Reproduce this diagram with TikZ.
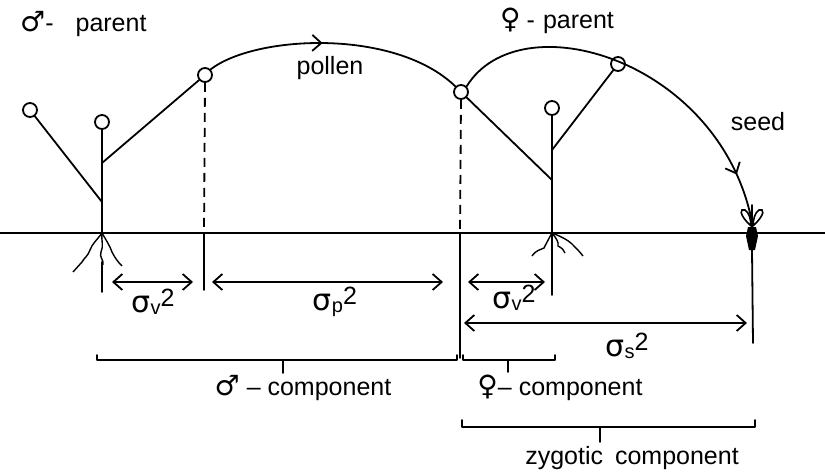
\documentclass[tikz,border=0pt]{standalone}
\usepackage{fontspec}
\setmainfont{Liberation Sans}
\newfontfamily\symf{DejaVu Sans}
\usetikzlibrary{arrows.meta,decorations.markings}
\newcommand\sgm[1]{{\symf\fontsize{30}{30}\selectfont σ}\raisebox{-0.45ex}{\fontsize{20}{20}\selectfont #1}\raisebox{1.0ex}{\fontsize{25}{25}\selectfont 2}}
\tikzset{
 ln/.style={line width=1.8pt, line cap=round, line join=round},
 bud/.style={circle,draw,line width=1.8pt,minimum size=14pt,inner sep=0pt,fill=white},
 dsh/.style={line width=1.8pt,dash pattern=on 9pt off 6pt},
 dimarr/.style={ln,{Straight Barb[length=9pt,width=16pt,line width=1.8pt]}-{Straight Barb[length=9pt,width=16pt,line width=1.8pt]}},
 lbl/.style={font=\fontsize{25}{27}\selectfont,inner sep=0pt},
 siglbl/.style={inner sep=0pt},
 root/.style={line width=1.4pt},
 midarrow/.style={postaction={decorate},decoration={markings,mark=at position #1 with {\arrow{Straight Barb[length=9pt,width=16pt,line width=1.8pt]}}}}
}
\begin{document}
\begin{tikzpicture}[x=1pt,y=-1pt]
\useasboundingbox (0,0) rectangle (825,475);
% ground
\coordinate (gl) at (0,233); \coordinate (gr) at (825,233);
\draw[ln] (gl) -- (gr);

% male plant
\coordinate (mbase) at (102,233);
\coordinate (mj1) at (102,202);
\coordinate (mj2) at (102,163);
\node[bud] (mtop) at (102,122) {};
\node[bud] (mleft) at (30,110) {};
\node[bud] (mright) at (205,75) {};
\draw[ln] (mbase) -- (mtop);
\draw[ln] (mj1) -- (mleft);
\draw[ln] (mj2) -- (mright);
% male roots
\draw[root] (mbase) .. controls (97,240) and (92,244) .. (90,250) .. controls (88,256) and (84,258) .. (82,262) -- (73,272);
\draw[root] (mbase) .. controls (101,240) and (104,246) .. (101,252) .. controls (99,257) and (104,260) .. (103,265);
\draw[root] (mbase) .. controls (106,240) and (110,246) .. (112,252) .. controls (115,258) and (118,262) .. (122,266);
\coordinate (mst1) at (102,262); \coordinate (mst2) at (102,292);
\draw[ln] (mst1) -- (mst2);

% female plant
\coordinate (fbase) at (552,233);
\coordinate (fj1) at (552,180);
\coordinate (fj2) at (552,150);
\node[bud] (ftop) at (552,108) {};
\node[bud] (fleft) at (461,92) {};
\node[bud] (fright) at (618,64) {};
\coordinate (fst2) at (552,295);
\draw[ln] (fst2) -- (ftop);
\draw[ln] (fj1) -- (fleft);
\draw[ln] (fj2) -- (fright);
% female roots
\draw[root] (fbase) .. controls (548,240) and (546,244) .. (544,248) .. controls (540,250) and (536,250) .. (532,256);
\draw[root] (fbase) .. controls (556,238) and (559,242) .. (558,246) .. controls (562,248) and (564,250) .. (565,253);
\draw[root] (fbase) .. controls (560,236) and (568,240) .. (572,244) .. controls (576,248) and (580,252) .. (583,256);

% seed
\coordinate (seedtop) at (752,222);
\coordinate (seedtip) at (752,205);
\coordinate (seedbot) at (753,343);
\draw[ln] (seedtip) -- (752,250);
\draw[line width=1.6pt] (751,226) .. controls (738,214) and (740,208) .. (745,210) .. controls (749,212) and (751,220) .. (751,226);
\draw[line width=1.6pt] (753,226) .. controls (766,214) and (764,208) .. (759,210) .. controls (755,212) and (753,220) .. (753,226);
\fill (748,227) -- (756,227) -- (758,236) -- (755,250) -- (749,250) -- (746,236) -- cycle;
\draw[ln] (752,250) -- (seedbot);

% pollen arc
\draw[ln,midarrow=0.45] (mright.north east) .. controls (255,35) and (395,28) .. (fleft.north west);
\node[lbl] (pollen) at (330,68) {pollen};
% seed arc
\draw[ln,midarrow=0.87] (fleft.north east) .. controls (520,0) and (720,60) .. (seedtop);
\node[lbl] (seedl) at (758,122) {seed};

% dashed verticals
\coordinate (m1g) at (204,233); \coordinate (m1b) at (204,290);
\draw[dsh] (mright.south) -- (m1g);
\draw[ln] (m1g) -- (m1b);
\coordinate (f1g) at (460,233); \coordinate (f1b) at (460,358);
\draw[dsh] (fleft.south) -- (f1g);
\draw[ln] (f1g) -- (f1b);

% dimension arrows
\coordinate (a1) at (112,282); \coordinate (a2) at (193,282);
\coordinate (b1) at (212,282); \coordinate (b2) at (443,282);
\coordinate (c1) at (468,282); \coordinate (c2) at (545,282);
\coordinate (d1) at (464,323); \coordinate (d2) at (747,323);
\draw[dimarr] (a1) -- (a2);
\draw[dimarr] (b1) -- (b2);
\draw[dimarr] (c1) -- (c2);
\draw[dimarr] (d1) -- (d2);
\node[siglbl] (sv1) at (153,302) {\sgm{v}};
\node[siglbl] (sp) at (335,302) {\sgm{p}};
\node[siglbl] (sv2) at (514,298) {\sgm{v}};
\node[siglbl] (ss) at (627,346) {\sgm{s}};

% brackets
\draw[ln] (97,355) -- (97,360) -- (457,360) -- (457,355);
\draw[ln] (283,360) -- (283,373);
\draw[ln] (463,355) -- (463,360) -- (555,360) -- (555,355);
\draw[ln] (508,360) -- (508,372);
\draw[ln] (462,420) -- (462,427) -- (755,427) -- (755,420);
\draw[ln] (600,427) -- (600,442);

% labels
\node[lbl,anchor=base west] (mpar) at (20,31) {{\symf\fontsize{28}{28}\selectfont ♂}-\hspace{22pt}parent};
\node[lbl,anchor=base west] (fpar) at (500,28) {{\symf\fontsize{28}{28}\selectfont ♀}\hspace{6pt}-\hspace{8pt}parent};
\node[lbl] (mcomp) at (303,388) {{\symf\fontsize{28}{28}\selectfont ♂} – component};
\node[lbl] (fcomp) at (560,388) {{\symf\fontsize{28}{28}\selectfont ♀}– component};
\node[lbl] (zcomp) at (632,458) {zygotic\hspace{12pt}component};
\end{tikzpicture}
\end{document}
